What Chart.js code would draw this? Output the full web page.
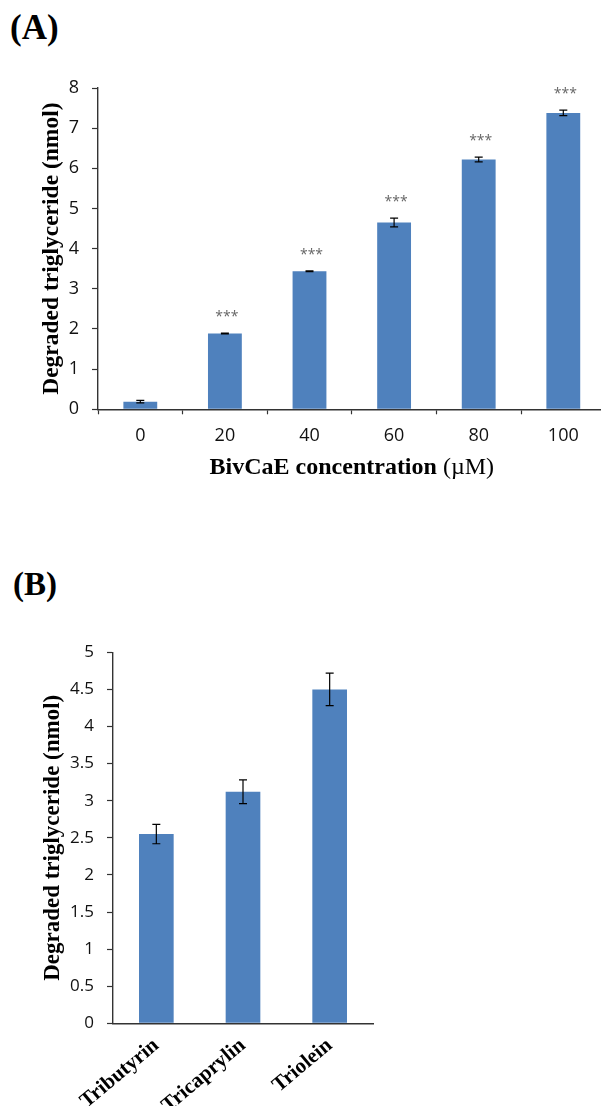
<!DOCTYPE html>
<html><head><meta charset="utf-8">
<script src="https://cdn.jsdelivr.net/npm/chart.js@4"></script>
<style>
html,body{margin:0;padding:0;background:#fff;overflow:hidden;width:601px;height:1106px;}
.lbl{position:absolute;font-family:"Liberation Serif","Times New Roman",serif;font-weight:bold;line-height:1;color:#000;white-space:nowrap;}
#wa{position:absolute;left:0;top:0;width:610px;height:490px;}
#wb{position:absolute;left:0;top:560px;width:601px;height:546px;}
canvas{display:block;}
</style></head><body>
<div class="lbl" style="left:10px;top:10px;font-size:35px">(A)</div>
<div class="lbl" style="left:13px;top:568px;font-size:33px">(B)</div>
<div id="wa"><canvas id="ca" width="610" height="490"></canvas></div>
<div id="wb"><canvas id="cb" width="601" height="546"></canvas></div>
<script>
// ---- data ----
const concLabels = ['0', '20', '40', '60', '80', '100'];
const concValues = [0.19, 1.89, 3.44, 4.65, 6.22, 7.38];
const concErrors = [0.03, 0.01, 0.01, 0.11, 0.06, 0.07];
const concSignif = ['', '***', '***', '***', '***', '***'];
const yTicksA = [0, 1, 2, 3, 4, 5, 6, 7, 8];
const xTitleA = ['BivCaE concentration ', '(\u00b5M)'];

const substrateLabels = ['Tributyrin', 'Tricaprylin', 'Triolein'];
const substrateValues = [2.55, 3.12, 4.50];
const substrateErrors = [0.13, 0.16, 0.22];
const yTicksB = [0, 0.5, 1, 1.5, 2, 2.5, 3, 3.5, 4, 4.5, 5];

const BAR = '#4F81BD';
const AXIS = '#333';
const SERIF = '"Liberation Serif","Times New Roman",serif';
const SANS = '"Open Sans","Liberation Sans",sans-serif';

const errorBars = {
  id: 'errorBars',
  afterDatasetsDraw(chart) {
    const ctx = chart.ctx, ys = chart.scales.y;
    const ds = chart.data.datasets[0];
    const meta = chart.getDatasetMeta(0);
    ctx.save();
    ctx.strokeStyle = '#000';
    ctx.lineWidth = 1.2;
    meta.data.forEach((bar, i) => {
      const v = ds.data[i], e = ds.errors[i];
      const x = bar.x;
      const yt = ys.getPixelForValue(v + e), yb = ys.getPixelForValue(v - e);
      ctx.beginPath();
      ctx.moveTo(x, yt); ctx.lineTo(x, yb);
      ctx.moveTo(x - 4, yt); ctx.lineTo(x + 4, yt);
      ctx.moveTo(x - 4, yb); ctx.lineTo(x + 4, yb);
      ctx.stroke();
      if (ds.signif && ds.signif[i]) {
        ctx.fillStyle = '#666';
        ctx.font = '14px ' + SANS;
        ctx.textAlign = 'center';
        ctx.textBaseline = 'alphabetic';
        ctx.fillText(ds.signif[i], x + 2, yt - 12);
      }
    });
    ctx.restore();
  }
};

// x-axis title of panel A: bold text followed by a regular-weight unit
const mixedTitle = {
  id: 'mixedTitle',
  afterDraw(chart) {
    const parts = chart.options.plugins.mixedTitle.parts;
    const ctx = chart.ctx, ca = chart.chartArea;
    const fb = 'bold 24px ' + SERIF, fr = '24px ' + SERIF;
    ctx.save();
    ctx.font = fb; const w1 = ctx.measureText(parts[0]).width;
    ctx.font = fr; const w2 = ctx.measureText(parts[1]).width;
    const x0 = (ca.left + ca.right) / 2 - (w1 + w2) / 2;
    const yb = chart.options.plugins.mixedTitle.baseline;
    ctx.fillStyle = '#000';
    ctx.textAlign = 'left'; ctx.textBaseline = 'alphabetic';
    ctx.font = fb; ctx.fillText(parts[0], x0, yb);
    ctx.font = fr; ctx.fillText(parts[1], x0 + w1, yb);
    ctx.restore();
  }
};

function yScale(ticks, max, width, titleSize, titleCenter, tickSize) {
  return {
    min: 0, max: max,
    afterBuildTicks: s => { s.ticks = ticks.map(v => ({ value: v })); },
    afterFit: s => { s.width = width; },
    ticks: { color: '#111', font: { family: SANS, size: tickSize }, padding: 13, callback: v => String(v) },
    grid: { drawOnChartArea: false, drawTicks: true, tickLength: 6, color: AXIS, tickWidth: 1.2 },
    border: { display: true, color: AXIS, width: 1.4 },
    title: {
      display: true, text: 'Degraded triglyceride (nmol)', color: '#000',
      font: { family: SERIF, size: titleSize, weight: 'bold', lineHeight: 1.2 },
      padding: { top: titleCenter - titleSize * 0.6, bottom: 0 }
    }
  };
}

// ---- chart A ----
new Chart(document.getElementById('ca'), {
  type: 'bar',
  data: {
    labels: concLabels,
    datasets: [{ data: concValues, errors: concErrors, signif: concSignif, backgroundColor: BAR,
      barPercentage: 0.4, categoryPercentage: 1.0 }]
  },
  options: {
    responsive: false, animation: false, devicePixelRatio: 1,
    layout: { padding: { top: 88, left: 0, right: 4.4, bottom: 0 } },
    plugins: { legend: { display: false }, tooltip: { enabled: false },
      mixedTitle: { parts: xTitleA, baseline: 474 } },
    scales: {
      x: {
        afterFit: s => { s.height = 490 - 409.3; },
        ticks: { color: '#111', font: { family: SANS, size: 18 }, padding: 11 },
        grid: { drawOnChartArea: false, drawTicks: true, tickLength: 5, color: AXIS, tickWidth: 1.2, offset: true },
        border: { display: true, color: AXIS, width: 1.4 }
      },
      y: yScale(yTicksA, 8, 98, 23.5, 52, 18)
    }
  },
  plugins: [errorBars, mixedTitle]
});

// ---- chart B ----
new Chart(document.getElementById('cb'), {
  type: 'bar',
  data: {
    labels: substrateLabels,
    datasets: [{ data: substrateValues, errors: substrateErrors, backgroundColor: BAR,
      barPercentage: 0.4, categoryPercentage: 1.0 }]
  },
  options: {
    responsive: false, animation: false, devicePixelRatio: 1,
    layout: { padding: { top: 92.3, left: 0, right: 228, bottom: 0 } },
    plugins: { legend: { display: false }, tooltip: { enabled: false } },
    scales: {
      x: {
        afterFit: s => { s.height = 546 - 463.3; },
        ticks: { color: '#000', font: { family: SERIF, size: 21, weight: 'bold' }, padding: 2,
          minRotation: 40, maxRotation: 40, autoSkip: false },
        grid: { display: false },
        border: { display: true, color: AXIS, width: 1.4 }
      },
      y: yScale(yTicksB, 5, 113, 23, 53.5, 17)
    }
  },
  plugins: [errorBars]
});
</script>
</body></html>
